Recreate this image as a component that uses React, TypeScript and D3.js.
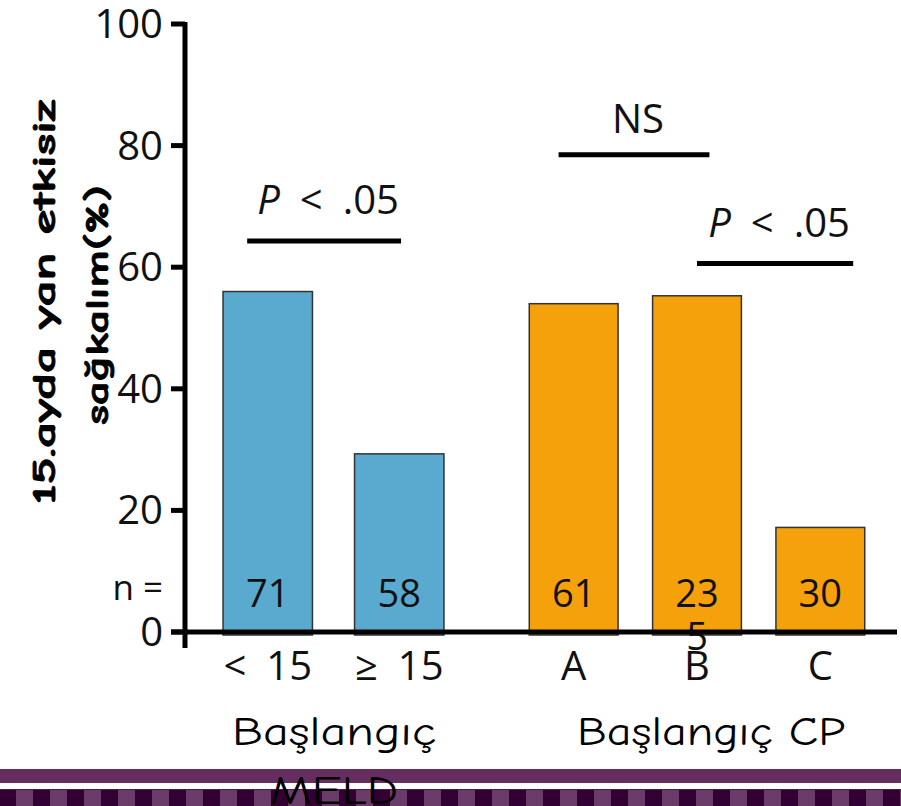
import React from "react";
import * as d3 from "d3";

// MELD groups
const meldCats = ["<\u200215", "≥\u200215"];
const meldValues = [56, 29.3];
const meldN = ["71", "58"];

// Child-Pugh groups
const cpCats = ["A", "B", "C"];
const cpValues = [54, 55.3, 17.2];
const cpN = ["61", "23\n5", "30"];

const yTicks = [0, 20, 40, 60, 80, 100];

const W = 901;
const H = 806;
const numFont = "'Open Sans', 'Noto Sans', sans-serif";
const comicFont = "'Comic Sans MS', 'Comic Neue', cursive";

const App = () => {
  const y = d3.scaleLinear().domain([0, 100]).range([632, 24]);

  const xMeld = d3.scaleBand().domain(meldCats).range([202, 465]).paddingInner(0.32).paddingOuter(0.16);
  const xCp = d3.scaleBand().domain(cpCats).range([512, 882]).paddingInner(0.28).paddingOuter(0.14);

  const bars = [
    ...meldCats.map((c, i) => ({ cat: c, value: meldValues[i], n: meldN[i], x: xMeld(c)!, w: xMeld.bandwidth(), fill: "#5aaad0" })),
    ...cpCats.map((c, i) => ({ cat: c, value: cpValues[i], n: cpN[i], x: xCp(c)!, w: xCp.bandwidth(), fill: "#f5a10b" })),
  ];

  // significance brackets: from/to bar index, fraction along the bar, level in %
  const brackets = [
    { text: "P", rest: "\u2002<\u2002.05", from: 0, fa: 0.27, to: 1, fb: 0.52, level: 64.3 },
    { text: "", rest: "NS", from: 2, fa: 0.33, to: 3, fb: 0.64, level: 78.5 },
    { text: "P", rest: "\u2002<\u2002.05", from: 3, fa: 0.5, to: 4, fb: 0.87, level: 60.6 },
  ];

  const axisX = 185;

  return (
    <svg width={W} height={H} style={{ position: "absolute", left: 0, top: 0, background: "#fff" }}>
      <rect width={W} height={H} fill="#fff" />

      {/* bars */}
      {bars.map((b, i) => (
        <rect key={i} x={b.x} y={y(b.value)} width={b.w} height={y(0) - y(b.value) + 3}
          fill={b.fill} stroke="#333" strokeWidth={1.5} />
      ))}

      {/* n labels */}
      <text x={163} y={600} textAnchor="end" fontFamily={numFont} fontSize={35} fill="#111">n =</text>
      {bars.map((b, i) => (
        <text key={i} x={b.x + b.w / 2} y={607} textAnchor="middle" fontFamily={numFont} fontSize={38} fill="#111">
          {b.n.split("\n").map((t, j) => (
            <tspan key={j} x={b.x + b.w / 2} dy={j === 0 ? 0 : 43}>{t}</tspan>
          ))}
        </text>
      ))}

      {/* y axis */}
      <line x1={axisX} x2={axisX} y1={y(100) - 2} y2={648} stroke="#000" strokeWidth={5} />
      {yTicks.map((t) => (
        <g key={t}>
          <line x1={171} x2={axisX} y1={y(t)} y2={y(t)} stroke="#000" strokeWidth={5} />
          <text x={163} y={y(t) + 14} textAnchor="end" fontFamily={numFont} fontSize={40} fill="#111">{t}</text>
        </g>
      ))}

      {/* x axis */}
      <line x1={171} x2={897} y1={y(0)} y2={y(0)} stroke="#000" strokeWidth={5} />

      {/* category labels */}
      {bars.map((b, i) => (
        <text key={i} x={b.x + b.w / 2} y={680} textAnchor="middle" fontFamily={numFont} fontSize={40} fill="#111">{b.cat}</text>
      ))}

      {/* brackets */}
      {brackets.map((br, i) => {
        const a = bars[br.from];
        const bb = bars[br.to];
        const x1 = a.x + a.w * br.fa;
        const x2 = bb.x + bb.w * br.fb;
        const ly = y(br.level);
        return (
          <g key={i}>
            <line x1={x1} x2={x2} y1={ly} y2={ly} stroke="#000" strokeWidth={5} />
            <text x={(x1 + x2) / 2 + 4} y={ly - (br.text ? 27 : 22)} textAnchor="middle" fontFamily={numFont} fontSize={40} fill="#111">
              {br.text && <tspan fontStyle="italic">{br.text}</tspan>}
              <tspan>{br.rest}</tspan>
            </text>
          </g>
        );
      })}

      {/* y axis title */}
      <text transform="translate(55,302) rotate(-90)" textAnchor="middle" fontFamily={comicFont} fontWeight="bold"
        fontSize={32} fill="#000" stroke="#000" strokeWidth={0.8} textLength={405} lengthAdjust="spacingAndGlyphs">15.ayda yan etkisiz</text>
      <text transform="translate(108,305) rotate(-90)" textAnchor="middle" fontFamily={comicFont} fontWeight="bold"
        fontSize={32} fill="#000" stroke="#000" strokeWidth={0.8} textLength={240} lengthAdjust="spacingAndGlyphs">sağkalım(%)</text>

      {/* bottom decoration */}
      <rect x={0} y={769} width={W} height={14} fill="#662e60" />
      <rect x={0} y={789} width={W} height={17} fill="#6b3c69" />
      {d3.range(-1, W, 34).map((sx) => (
        <rect key={sx} x={sx} y={789} width={17} height={17} fill="#330033" />
      ))}
      <line x1={0} x2={W} y1={789.5} y2={789.5} stroke="#4a1f47" strokeWidth={1} />

      {/* group titles */}
      <text x={334} y={745} textAnchor="middle" fontFamily={comicFont} fontSize={40} fill="#000"
        textLength={204} lengthAdjust="spacingAndGlyphs">Başlangıç</text>
      <text x={334} y={804} textAnchor="middle" fontFamily={comicFont} fontSize={40} fill="#000"
        textLength={128} lengthAdjust="spacingAndGlyphs">MELD</text>
      <text x={711} y={745} textAnchor="middle" fontFamily={comicFont} fontSize={40} fill="#000"
        textLength={268} lengthAdjust="spacingAndGlyphs">Başlangıç CP</text>
    </svg>
  );
};

export default App;
